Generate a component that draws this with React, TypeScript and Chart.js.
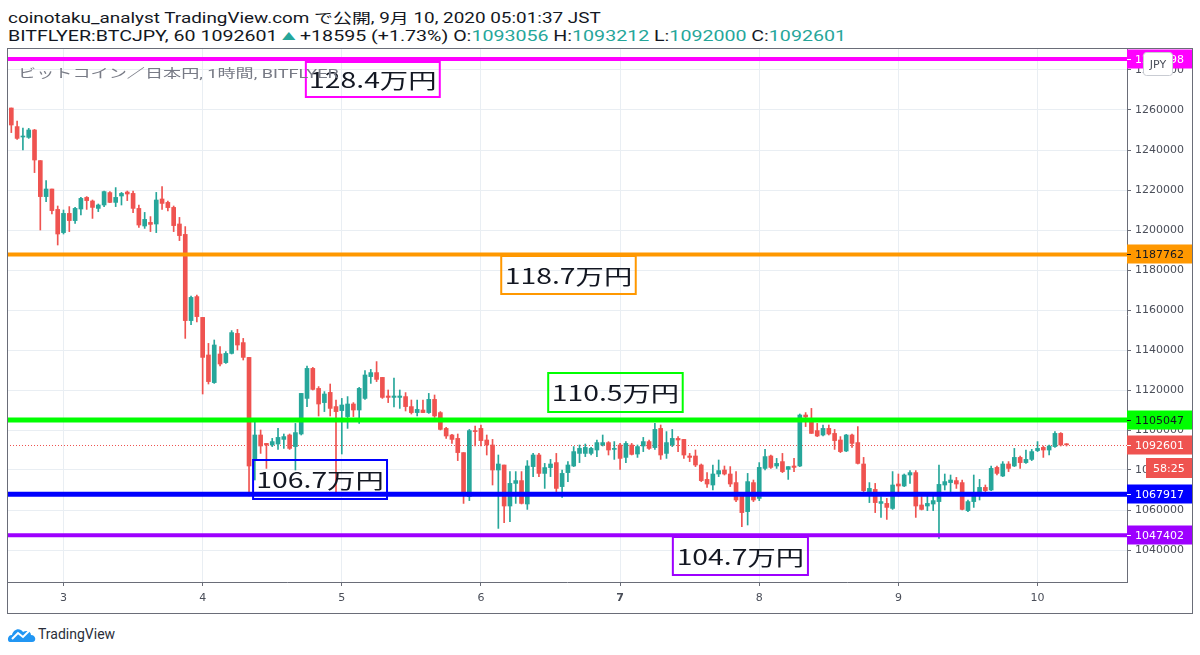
import React, { useEffect, useRef } from "react";
import { Chart, registerables } from "chart.js";

Chart.register(...registerables);

// ---- Data (hourly candles, 2日 15:00 → 10日 05:00, JST) ----
const opens = [
  1261000, 1251700, 1246500, 1246300, 1250000, 1234700, 1216700, 1220500, 1210300, 1198700,
  1208300, 1204700, 1210500, 1216300, 1214500, 1210800, 1212500, 1218700, 1213800, 1217000,
  1219000, 1218300, 1210800, 1202000, 1203800, 1203000, 1215500, 1213800, 1211300, 1203000,
  1197800, 1154700, 1166700, 1156300, 1137500, 1123700, 1138000, 1133700, 1138300, 1148300,
  1143700, 1136300, 1085000, 1097500, 1093300, 1092500, 1093000, 1095300, 1097500, 1091700,
  1098000, 1115800, 1130800, 1120800, 1113700, 1118800, 1111700, 1109700, 1106700, 1113000,
  1110000, 1115800, 1126700, 1128700, 1126300, 1117000, 1116300, 1116300, 1116700, 1111700,
  1108700, 1110000, 1108700, 1115300, 1108700, 1100800, 1097500, 1095800, 1088700, 1066700,
  1099700, 1100800, 1095000, 1092500, 1080000, 1082500, 1062000, 1073300, 1074700, 1063000,
  1081700, 1087500, 1078300, 1081200, 1083700, 1071700, 1078700, 1082000, 1088300, 1088300,
  1088300, 1090000, 1092500, 1093700, 1090300, 1092500, 1086300, 1092500, 1088000, 1092000,
  1094200, 1091200, 1100800, 1088300, 1092500, 1095800, 1095300, 1087000, 1087000, 1082500,
  1075300, 1072500, 1078000, 1080000, 1078000, 1073700, 1067000, 1059200, 1073700, 1065800,
  1080800, 1087000, 1082000, 1084200, 1080300, 1082000, 1082000, 1107500, 1105000, 1099700,
  1097500, 1100800, 1098300, 1095000, 1089500, 1097500, 1093700, 1083000, 1069200, 1070300,
  1063300, 1063300, 1060800, 1073000, 1072000, 1077500, 1078700, 1062500, 1062000, 1063000,
  1064200, 1072500, 1073700, 1074700, 1073700, 1059700, 1064200, 1069200, 1071300, 1070000,
  1081300, 1077000, 1083000, 1082000, 1086300, 1083700, 1085300, 1089700, 1091300, 1090000,
  1091700, 1098300, 1093056,
];
const highs = [
  1261000, 1254500, 1251000, 1250800, 1250300, 1234700, 1224700, 1220500, 1212000, 1210000,
  1211700, 1211300, 1216300, 1216700, 1215000, 1213000, 1219500, 1219200, 1221200, 1218800,
  1219500, 1219500, 1212500, 1208800, 1206700, 1218800, 1221700, 1214500, 1212000, 1206300,
  1201700, 1167000, 1167500, 1156300, 1143300, 1145000, 1141700, 1139200, 1149700, 1150300,
  1145800, 1136300, 1105000, 1100000, 1093300, 1095800, 1100800, 1098000, 1098000, 1103300,
  1118300, 1132000, 1131300, 1121700, 1119200, 1123000, 1115000, 1115800, 1116700, 1113700,
  1121300, 1129700, 1130300, 1134200, 1126300, 1120000, 1126000, 1120000, 1118700, 1115000,
  1115000, 1115000, 1118300, 1117500, 1109200, 1101300, 1097800, 1098000, 1088700, 1100300,
  1102000, 1102500, 1097500, 1095300, 1087500, 1082500, 1079200, 1079200, 1079200, 1084700,
  1088300, 1088300, 1083300, 1085300, 1088300, 1080000, 1084200, 1091700, 1092500, 1093000,
  1091300, 1095000, 1097500, 1094200, 1094200, 1093300, 1094200, 1093300, 1092500, 1096300,
  1095000, 1103300, 1102500, 1099200, 1100300, 1096700, 1095300, 1088300, 1090000, 1083000,
  1078700, 1082500, 1085000, 1082000, 1081700, 1079200, 1068300, 1078300, 1075000, 1083700,
  1090300, 1087500, 1085800, 1088300, 1081700, 1085800, 1108000, 1108700, 1110800, 1103300,
  1102500, 1102500, 1100300, 1096700, 1097800, 1098000, 1101700, 1086300, 1073700, 1073300,
  1066700, 1065800, 1079200, 1078000, 1078000, 1079700, 1079700, 1066700, 1067000, 1067000,
  1082500, 1078000, 1077500, 1076300, 1075000, 1065000, 1077500, 1075300, 1072500, 1082000,
  1082000, 1084200, 1084200, 1090800, 1087000, 1090000, 1090300, 1094200, 1092000, 1092500,
  1099200, 1098700, 1093212,
];
const lows = [
  1248700, 1245300, 1240000, 1245800, 1228700, 1200000, 1214200, 1208000, 1192500, 1198000,
  1199200, 1203300, 1207500, 1210300, 1205800, 1209200, 1211700, 1213700, 1211700, 1212500,
  1214700, 1208700, 1201300, 1200800, 1199200, 1198700, 1210300, 1209500, 1199200, 1194700,
  1145800, 1152700, 1154000, 1118000, 1123000, 1123300, 1132000, 1133300, 1138000, 1140000,
  1135000, 1067000, 1075000, 1088300, 1080800, 1091700, 1090300, 1090800, 1090300, 1080000,
  1097500, 1111700, 1120000, 1107000, 1109200, 1107000, 1068300, 1088000, 1100800, 1106700,
  1103300, 1115300, 1123300, 1124200, 1115800, 1113700, 1111500, 1110800, 1109500, 1108000,
  1107000, 1108700, 1108300, 1106300, 1100000, 1095800, 1093300, 1084700, 1063300, 1064700,
  1092000, 1092000, 1087500, 1072500, 1050800, 1053700, 1054200, 1063300, 1063000, 1060300,
  1076700, 1076700, 1070800, 1076700, 1069200, 1066300, 1074200, 1081700, 1083700, 1086700,
  1087500, 1086700, 1092000, 1087500, 1085300, 1080300, 1083700, 1087500, 1086300, 1089200,
  1090300, 1090300, 1085300, 1085800, 1091700, 1089200, 1085800, 1084200, 1081700, 1074200,
  1071300, 1070000, 1076700, 1077500, 1071700, 1064200, 1051700, 1052500, 1064200, 1064700,
  1080000, 1080800, 1080800, 1078700, 1075300, 1079200, 1081700, 1101700, 1098300, 1096700,
  1097000, 1097500, 1090300, 1088700, 1089200, 1091300, 1083000, 1069200, 1063700, 1058700,
  1056300, 1055300, 1060300, 1067000, 1071700, 1073300, 1056300, 1060000, 1059700, 1059700,
  1045800, 1070000, 1069200, 1070800, 1060000, 1059200, 1061300, 1065000, 1069200, 1069700,
  1077500, 1076700, 1079200, 1081700, 1080800, 1083300, 1084700, 1089200, 1086300, 1087500,
  1091300, 1092000, 1092000,
];
const closes = [
  1252500, 1245800, 1247000, 1250000, 1235000, 1216700, 1220500, 1209700, 1198000, 1208300,
  1204700, 1210800, 1215800, 1214700, 1211300, 1212500, 1219200, 1213800, 1216300, 1218300,
  1218000, 1210800, 1202500, 1205300, 1202800, 1215000, 1213300, 1211200, 1202200, 1197200,
  1154700, 1166300, 1156700, 1136300, 1124200, 1142500, 1133000, 1138300, 1148700, 1142500,
  1136300, 1082000, 1097500, 1092000, 1092500, 1094200, 1096300, 1096700, 1090800, 1098700,
  1118300, 1130800, 1120300, 1113000, 1118000, 1110800, 1109200, 1112500, 1113000, 1110000,
  1120800, 1127500, 1128700, 1125300, 1116300, 1116300, 1117000, 1117000, 1111700, 1108700,
  1110300, 1108700, 1115300, 1107000, 1100300, 1097000, 1095300, 1088700, 1068000, 1099700,
  1099200, 1094700, 1092500, 1080000, 1083000, 1062000, 1073300, 1074700, 1063300, 1082000,
  1087500, 1078300, 1081200, 1083000, 1070800, 1078300, 1082500, 1089200, 1090800, 1091300,
  1090800, 1093700, 1093700, 1090000, 1090800, 1085800, 1093300, 1087800, 1091700, 1094200,
  1090800, 1100300, 1087500, 1093700, 1095800, 1095000, 1087500, 1086300, 1082500, 1074700,
  1073000, 1078000, 1079700, 1078000, 1073000, 1065000, 1058700, 1074200, 1065000, 1081300,
  1086700, 1081300, 1083300, 1079200, 1081700, 1081300, 1107500, 1106500, 1098300, 1097000,
  1100800, 1098000, 1094700, 1089200, 1097500, 1093300, 1083300, 1069700, 1070800, 1063700,
  1064200, 1061300, 1072500, 1072000, 1077500, 1078700, 1062000, 1060300, 1063300, 1064700,
  1072800, 1074200, 1075000, 1073000, 1060300, 1064200, 1067500, 1071300, 1069700, 1080800,
  1078300, 1083000, 1080800, 1086300, 1083700, 1085300, 1089200, 1090800, 1090000, 1092000,
  1098300, 1092500, 1092601,
];

// x ticks: candle index of 00:00 each day
const dayTickIndex = [9, 33, 57, 81, 105, 129, 153, 177];
const dayTickLabels = ["3", "4", "5", "6", "7", "8", "9", "10"];
const boldDayLabel = "7";

const priceTicks = [1040000, 1060000, 1080000, 1100000, 1120000, 1140000, 1160000, 1180000, 1200000, 1220000, 1240000, 1260000, 1280000];

// horizontal levels
const levelValues = [1285498, 1187762, 1105047, 1067917, 1047402];
const levelLabels = ["1285498", "1187762", "1105047", "1067917", "1047402"];
const levelColors = ["#ff00ff", "#ff9800", "#00ff00", "#0000ff", "#9d00ff"];
const levelTextColors = ["#ffffff", "#131722", "#131722", "#ffffff", "#ffffff"];
const levelWidths = [4, 4, 5, 5, 4];

// text notes (万円)
const noteTexts = ["128.4万円", "118.7万円", "110.5万円", "106.7万円", "104.7万円"];
const noteLeftIdx = [50.8, 84.5, 92.6, 41.7, 114.1];
const noteRightIdx = [73.9, 107.7, 115.8, 64.8, 137.4];
const noteTopVal = [1284000, 1187000, 1128500, 1085000, 1046500];
const noteBottomVal = [1266500, 1168000, 1109000, 1065500, 1027500];

const lastPrice = 1092601;
const lastPriceLabel = "1092601";
const countdownLabel = "58:25";

const UP = "#26a69a";
const DOWN = "#ef5350";
const FRAME = "#6a6d78";
const GRID = "#e9eef3";
const AXIS_FONT = '"DejaVu Sans", Verdana, sans-serif';
const STRETCH = 1.35;

const overlayPlugin = {
  id: "tvOverlay",
  beforeDatasetsDraw(chart: any) {
    const { ctx, chartArea, scales } = chart;
    const py = Math.round(scales.y.getPixelForValue(lastPrice)) + 0.5;
    ctx.save();
    ctx.strokeStyle = DOWN;
    ctx.lineWidth = 1;
    ctx.setLineDash([1, 2]);
    ctx.beginPath();
    ctx.moveTo(chartArea.left, py);
    ctx.lineTo(chartArea.right, py);
    ctx.stroke();
    ctx.restore();
  },
  afterDatasetsDraw(chart: any) {
    const { ctx, chartArea, scales } = chart;
    const xs = scales.x;
    const ys = scales.y;
    ctx.save();
    ctx.beginPath();
    ctx.rect(chartArea.left, chartArea.top, chartArea.right - chartArea.left, chartArea.bottom - chartArea.top);
    ctx.clip();
    levelValues.forEach((v, i) => {
      const py = ys.getPixelForValue(v);
      ctx.strokeStyle = levelColors[i];
      ctx.lineWidth = levelWidths[i];
      ctx.beginPath();
      ctx.moveTo(chartArea.left, py);
      ctx.lineTo(chartArea.right, py);
      ctx.stroke();
    });
    noteTexts.forEach((t, i) => {
      const x1 = xs.getPixelForValue(noteLeftIdx[i]);
      const x2 = xs.getPixelForValue(noteRightIdx[i]);
      const y1 = ys.getPixelForValue(noteTopVal[i]);
      const y2 = ys.getPixelForValue(noteBottomVal[i]);
      ctx.strokeStyle = levelColors[i];
      ctx.lineWidth = 2;
      ctx.strokeRect(x1, y1, x2 - x1, y2 - y1);
      ctx.save();
      ctx.translate((x1 + x2) / 2, (y1 + y2) / 2 + 1);
      ctx.scale(STRETCH, 1);
      ctx.fillStyle = "#131722";
      ctx.font = '21px "Noto Sans CJK JP", sans-serif';
      ctx.textAlign = "center";
      ctx.textBaseline = "middle";
      ctx.fillText(t, 0, 0);
      ctx.restore();
    });
    ctx.restore();
  },
  afterDraw(chart: any) {
    const { ctx, chartArea, scales, width, height } = chart;
    const ys = scales.y;
    const lx = chartArea.right;
    const lw = width - 1 - lx;
    const drawLabel = (v: number, text: string, bg: string, fg: string) => {
      const py = Math.round(ys.getPixelForValue(v));
      ctx.fillStyle = bg;
      ctx.fillRect(lx, py - 9.5, lw, 19);
      ctx.strokeStyle = fg;
      ctx.lineWidth = 1;
      ctx.beginPath();
      ctx.moveTo(lx, py + 0.5);
      ctx.lineTo(lx + 4, py + 0.5);
      ctx.stroke();
      ctx.fillStyle = fg;
      ctx.font = "11px " + AXIS_FONT;
      ctx.textAlign = "left";
      ctx.textBaseline = "middle";
      ctx.fillText(text, lx + 8, py + 1);
      return py;
    };
    ctx.save();
    levelValues.forEach((v, i) => drawLabel(v, levelLabels[i], levelColors[i], levelTextColors[i]));
    const lp = drawLabel(lastPrice, lastPriceLabel, DOWN, "#ffffff");
    // countdown
    ctx.fillStyle = DOWN;
    ctx.fillRect(lx + 19, lp + 13, width - 1 - (lx + 19), 20);
    ctx.fillStyle = "#ffffff";
    ctx.font = "11px " + AXIS_FONT;
    ctx.textAlign = "left";
    ctx.textBaseline = "middle";
    ctx.fillText(countdownLabel, lx + 26, lp + 24);
    // JPY badge
    const bx = lx + 16.5, by = 4.5, bw = 29, bh = 23;
    ctx.fillStyle = "#ffffff";
    ctx.strokeStyle = "#c9ccd3";
    ctx.beginPath();
    ctx.moveTo(bx + 3, by);
    ctx.lineTo(bx + bw - 3, by);
    ctx.quadraticCurveTo(bx + bw, by, bx + bw, by + 3);
    ctx.lineTo(bx + bw, by + bh - 3);
    ctx.quadraticCurveTo(bx + bw, by + bh, bx + bw - 3, by + bh);
    ctx.lineTo(bx + 3, by + bh);
    ctx.quadraticCurveTo(bx, by + bh, bx, by + bh - 3);
    ctx.lineTo(bx, by + 3);
    ctx.quadraticCurveTo(bx, by, bx + 3, by);
    ctx.fill();
    ctx.stroke();
    ctx.fillStyle = "#4a4e59";
    ctx.textAlign = "center";
    ctx.fillText("JPY", bx + bw / 2, by + bh / 2 + 1);
    // outer frame
    ctx.strokeStyle = FRAME;
    ctx.lineWidth = 1;
    ctx.strokeRect(0.5, 0.5, width - 1, height - 1);
    ctx.restore();
  },
};

function TvLogo() {
  return (
    <svg width="30" height="18" viewBox="0 0 30 18" style={{ position: "absolute", left: 7, top: 625 }}>
      <path d="M3 17 C0 17 0 10 5 10 C6 4 13 2 16 7 C19 5 24 6 24 10 C29 10 30 17 25 17 Z" fill="#2196f3" />
      <polyline points="5,14 11,8 16,12 22,6" fill="none" stroke="#ffffff" strokeWidth="2" />
    </svg>
  );
}

export default function App() {
  const canvasRef = useRef<HTMLCanvasElement | null>(null);

  useEffect(() => {
    const canvas = canvasRef.current;
    if (!canvas) return;
    const idx = opens.map((_, i) => i);
    const colors = idx.map((i) => (closes[i] >= opens[i] ? UP : DOWN));
    const chart = new Chart(canvas, {
      type: "bar",
      data: {
        datasets: [
          {
            label: "body",
            data: idx.map((i) => ({ x: i, y: [opens[i], closes[i]] })) as any,
            backgroundColor: colors,
            barThickness: 4,
            minBarLength: 1,
            grouped: false,
            borderWidth: 0,
          } as any,
          {
            label: "wick",
            data: idx.map((i) => ({ x: i, y: [lows[i], highs[i]] })) as any,
            backgroundColor: colors,
            barThickness: 1,
            minBarLength: 1,
            grouped: false,
            borderWidth: 0,
          } as any,
        ],
      },
      options: {
        animation: false,
        responsive: false,
        devicePixelRatio: 1,
        layout: { padding: 0 },
        plugins: { legend: { display: false }, tooltip: { enabled: false } },
        scales: {
          x: {
            type: "linear",
            offset: false,
            min: -0.745,
            max: 192.43,
            afterBuildTicks: (s: any) => {
              s.ticks = dayTickIndex.map((v) => ({ value: v }));
            },
            afterFit: (s: any) => {
              s.height = 32;
              s.paddingLeft = 0;
              s.paddingRight = 0;
            },
            ticks: {
              autoSkip: false,
              maxRotation: 0,
              padding: 6,
              color: "#4a4e59",
              font: (c: any) => ({
                size: 11,
                family: AXIS_FONT,
                weight: dayTickLabels[c.index] === boldDayLabel ? "bold" : "normal",
              }),
              callback: (_v: any, i: number) => dayTickLabels[i],
            },
            grid: { color: GRID, tickLength: 4, tickColor: FRAME, offset: false },
            border: { color: FRAME, width: 1 },
          } as any,
          y: {
            position: "right",
            min: 1024000,
            max: 1291000,
            afterBuildTicks: (s: any) => {
              s.ticks = priceTicks.map((v) => ({ value: v }));
            },
            afterFit: (s: any) => {
              s.width = 66;
              s.paddingTop = 0;
              s.paddingBottom = 0;
            },
            ticks: {
              padding: 4,
              color: "#4a4e59",
              font: { size: 11, family: AXIS_FONT },
              callback: (v: any) => String(v),
            },
            grid: { color: GRID, tickLength: 4, tickColor: FRAME },
            border: { color: FRAME, width: 1 },
          } as any,
        },
      },
      plugins: [overlayPlugin],
    });
    return () => chart.destroy();
  }, []);

  const teal = { color: UP };
  const headLine = {
    position: "absolute" as const,
    left: 8,
    fontSize: 14,
    lineHeight: "18px",
    whiteSpace: "nowrap" as const,
    transformOrigin: "0 0",
  };
  return (
    <div
      style={{
        position: "absolute",
        left: 0,
        top: 0,
        width: 1200,
        height: 655,
        background: "#ffffff",
        overflow: "hidden",
        fontFamily: 'Roboto, "Noto Sans CJK JP", sans-serif',
        color: "#131722",
      }}
    >
      <div style={{ ...headLine, top: 9, transform: `scaleX(${STRETCH})` }}>
        coinotaku_analyst TradingView.com で公開, 9月 10, 2020 05:01:37 JST
      </div>
      <div style={{ ...headLine, top: 27, transform: "scaleX(1.4)" }}>
        BITFLYER:BTCJPY, 60 1092601
        <span style={{ color: UP, fontSize: 10, margin: "0 3px", verticalAlign: "1px" }}>▲</span>+18595 (+1.73%) O:
        <span style={teal}>1093056</span> H:<span style={teal}>1093212</span> L:<span style={teal}>1092000</span> C:
        <span style={teal}>1092601</span>
      </div>
      <canvas ref={canvasRef} width={1186} height={566} style={{ position: "absolute", left: 7, top: 48, width: 1186, height: 566 }} />
      <div
        style={{
          position: "absolute",
          left: 18,
          top: 66,
          fontSize: 12.5,
          lineHeight: "16px",
          color: "#787b86",
          whiteSpace: "nowrap",
          transform: "scaleX(1.45)",
          transformOrigin: "0 0",
        }}
      >
        ビットコイン／日本円, 1時間, BITFLYER
      </div>
      <TvLogo />
      <div style={{ position: "absolute", left: 38, top: 624, fontSize: 14, lineHeight: "20px", color: "#2a2e39" }}>TradingView</div>
    </div>
  );
}
